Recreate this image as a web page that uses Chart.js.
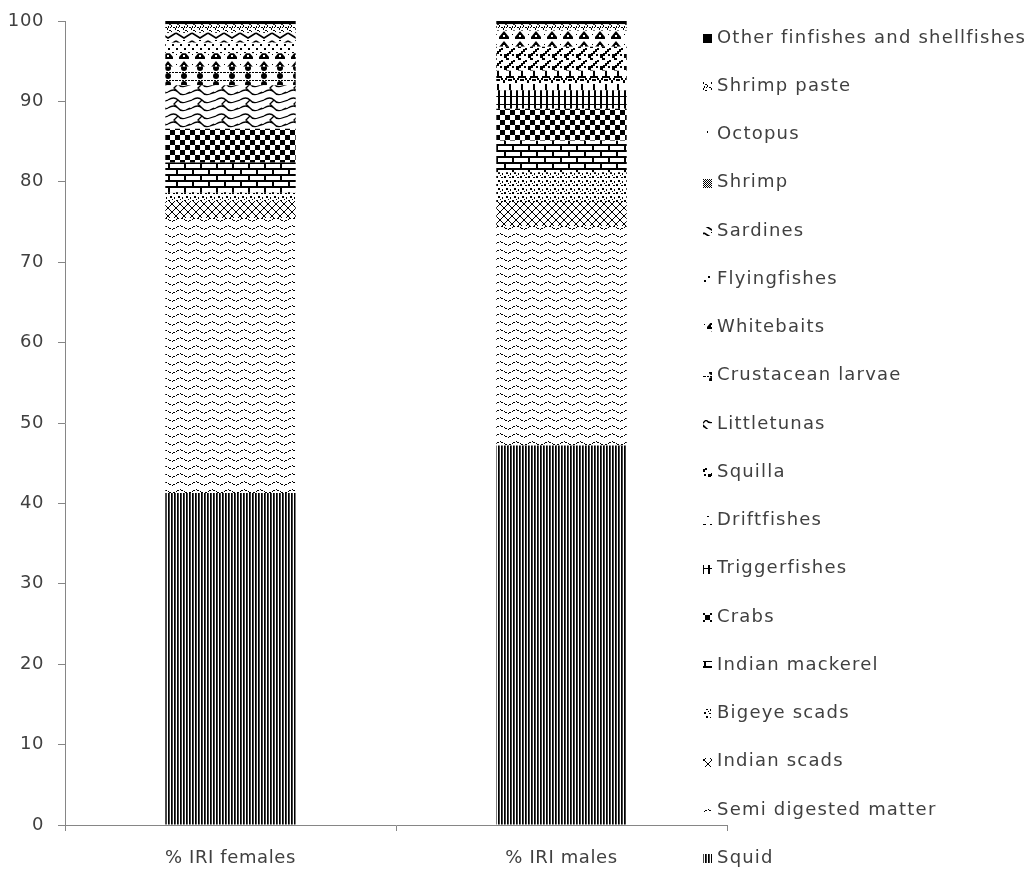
<!DOCTYPE html>
<html>
<head>
<meta charset="utf-8">
<script src="https://cdn.jsdelivr.net/npm/chart.js@4"></script>
<style>
  html, body { margin: 0; padding: 0; background: #ffffff; }
  #wrap { width: 1032px; height: 871px; }
</style>
</head>
<body>
<div id="wrap"><canvas id="c" width="1032" height="871"></canvas></div>
<script>
// ---- data ----
const categories = ['% IRI females', '% IRI males'];
const seriesNames = ['Squid', 'Semi digested matter', 'Indian scads', 'Bigeye scads', 'Indian mackerel',
  'Crabs', 'Triggerfishes', 'Driftfishes', 'Squilla', 'Littletunas', 'Crustacean larvae', 'Whitebaits',
  'Flyingfishes', 'Sardines', 'Shrimp', 'Octopus', 'Shrimp paste', 'Other finfishes and shellfishes'];
const femaleValues = [41.3, 34.2, 2.1, 1.1, 3.7, 4.2, 0, 0, 0, 5.4, 2.3, 1.7, 1.3, 1.3, 0, 0, 1.0, 0.4];
const maleValues   = [47.2, 27.3, 3.0, 3.7, 3.9, 4.0, 2.3, 2.4, 3.0, 0, 0, 2.0, 0, 0, 0, 0, 0.8, 0.4];
const yTickValues = [0, 10, 20, 30, 40, 50, 60, 70, 80, 90, 100];

// ---- patterns ----
function mk(w, h, draw) {
  const c = document.createElement('canvas');
  c.width = w; c.height = h;
  const g = c.getContext('2d');
  g.fillStyle = '#ffffff'; g.fillRect(0, 0, w, h);
  g.fillStyle = '#000000'; g.strokeStyle = '#000000';
  draw(g, w, h);
  return document.getElementById('c').getContext('2d').createPattern(c, 'repeat');
}
function px(g, pts) { pts.forEach(p => g.fillRect(p[0], p[1], p[2] || 1, p[3] || 1)); }

const patterns = {
  'Squid': mk(3, 1, g => { g.fillRect(0, 0, 1, 1); g.fillStyle = '#444'; g.fillRect(1, 0, 1, 1); }),
  'Semi digested matter': mk(16, 8, g => {
    for (let x = 0; x < 16; x++) {
      if (x % 4 === 3) continue;
      const y = 3 + Math.round(-1.6 * Math.sin(2 * Math.PI * x / 16));
      g.fillRect(x, y, 1, 1);
    }
  }),
  'Indian scads': mk(8, 8, g => {
    g.lineWidth = 1;
    g.beginPath();
    g.moveTo(0, 0); g.lineTo(4, 4); g.lineTo(0, 8);
    g.moveTo(8, 0); g.lineTo(4, 4); g.lineTo(8, 8);
    g.stroke();
  }),
  'Bigeye scads': mk(8, 8, g => { px(g, [[0,0,2,2],[5,1,2,1],[2,4,2,2],[6,5,1,2],[4,7,1,1]]); }),
  'Indian mackerel': mk(16, 12, g => {
    g.fillRect(0, 0, 16, 2); g.fillRect(0, 6, 16, 2);
    g.fillRect(0, 2, 2, 4); g.fillRect(8, 8, 2, 4);
  }),
  'Crabs': mk(10, 10, g => { g.fillRect(0, 0, 5, 5); g.fillRect(5, 5, 5, 5); }),
  'Triggerfishes': mk(6, 8, g => { g.fillRect(0, 0, 2, 8); g.fillRect(0, 0, 6, 1); }),
  'Driftfishes': mk(12, 14, g => {
    px(g, [[5,0,2,6],[2,6,8,2],[1,8,2,2],[9,8,2,2],[0,10,1,3],[11,10,1,3],[4,9,4,2]]);
  }),
  'Squilla': mk(12, 12, g => {
    px(g, [[0,6,3,4],[3,5,2,3],[5,3,2,3],[7,1,2,3],[9,0,2,2],[2,10,3,2],[8,6,2,2]]);
  }),
  'Littletunas': mk(24, 16, g => {
    g.lineWidth = 1.3;
    g.beginPath();
    g.moveTo(0, 4); g.quadraticCurveTo(6, 0, 10, 4); g.quadraticCurveTo(13, 8, 18, 6); g.lineTo(24, 4);
    g.moveTo(0, 12); g.quadraticCurveTo(6, 8, 10, 12); g.quadraticCurveTo(13, 16, 18, 14); g.lineTo(24, 12);
    g.moveTo(10, 4); g.lineTo(6, 8); g.lineTo(10, 12);
    g.moveTo(22, 12); g.lineTo(18, 14);
    g.stroke();
  }),
  'Crustacean larvae': mk(16, 8, g => {
    g.beginPath(); g.arc(8, 4, 3, 0, Math.PI * 2); g.fill();
    for (let x = 0; x < 16; x += 3) g.fillRect(x, 0, 2, 1);
  }),
  'Whitebaits': mk(16, 10, g => {
    g.beginPath(); g.moveTo(8, 1); g.lineTo(13, 7); g.lineTo(3, 7); g.closePath(); g.fill();
    g.fillRect(3, 7, 10, 2);
    g.fillStyle = '#fff'; g.fillRect(7, 5, 2, 2);
    g.fillStyle = '#000'; g.fillRect(0, 4, 1, 1);
  }),
  'Flyingfishes': mk(8, 8, g => { px(g, [[0,0,2,2],[4,4,2,2]]); }),
  'Sardines': mk(16, 8, g => {
    g.lineWidth = 1.5; g.beginPath(); g.moveTo(0, 1); g.lineTo(8, 6); g.lineTo(16, 1); g.stroke();
    g.fillRect(7, 0, 2, 1);
  }),
  'Shrimp': mk(2, 2, g => { g.fillRect(0, 0, 1, 1); g.fillRect(1, 1, 1, 1); }),
  'Octopus': mk(8, 8, g => { g.fillRect(3, 3, 1, 2); }),
  'Shrimp paste': mk(8, 6, g => { px(g, [[1,0,2,1],[3,1,1,2],[2,3,1,1],[0,2,1,2],[5,3,2,1],[7,4,1,2]]); }),
  'Other finfishes and shellfishes': '#000000'
};

const axisColor = '#868686';
const textColor = '#404040';
const fontFamily = '"DejaVu Sans", "Liberation Sans", sans-serif';

const datasets = seriesNames.map((name, i) => ({
  label: name,
  data: [femaleValues[i], maleValues[i]],
  backgroundColor: patterns[name],
  borderWidth: 0,
  categoryPercentage: 1.0,
  barPercentage: 0.394
}));

const spacing = {
  id: 'spacing',
  beforeDraw(chart) { chart.ctx.letterSpacing = '0.6px'; }
};

const sideLegend = {
  id: 'sideLegend',
  afterDraw(chart) {
    const ctx = chart.ctx;
    ctx.save();
    ctx.font = '18px ' + fontFamily;
    ctx.letterSpacing = '1.2px';
    ctx.textBaseline = 'middle';
    ctx.textAlign = 'left';
    const n = chart.data.datasets.length;
    for (let k = 0; k < n; k++) {
      const ds = chart.data.datasets[n - 1 - k];
      const y = 38 + k * 48.24;
      ctx.fillStyle = ds.backgroundColor;
      ctx.fillRect(703, Math.round(y) - 4, 9, 9);
      ctx.fillStyle = textColor;
      ctx.fillText(ds.label, 717, y);
    }
    ctx.restore();
  }
};

new Chart(document.getElementById('c'), {
  type: 'bar',
  data: { labels: categories, datasets: datasets },
  plugins: [spacing, sideLegend],
  options: {
    responsive: false,
    animation: false,
    layout: { padding: { top: 21, right: 305, left: 0, bottom: 0 } },
    plugins: { legend: { display: false }, tooltip: { enabled: false } },
    scales: {
      x: {
        stacked: true,
        offset: true,
        grid: { display: true, drawOnChartArea: false, drawTicks: true, tickLength: 6, color: axisColor, offset: true },
        border: { display: true, color: axisColor },
        ticks: { color: textColor, font: { family: fontFamily, size: 18 }, padding: 17 },
        afterFit(scale) { scale.height = 46; }
      },
      y: {
        stacked: true,
        min: 0, max: 100,
        afterBuildTicks(scale) { scale.ticks = yTickValues.map(v => ({ value: v })); },
        grid: { display: true, drawOnChartArea: false, drawTicks: true, tickLength: 7, color: axisColor },
        border: { display: true, color: axisColor },
        ticks: { color: textColor, font: { family: fontFamily, size: 18, lineHeight: 0.75 }, padding: 14 },
        afterFit(scale) { scale.width = 65; }
      }
    }
  }
});
</script>
</body>
</html>
